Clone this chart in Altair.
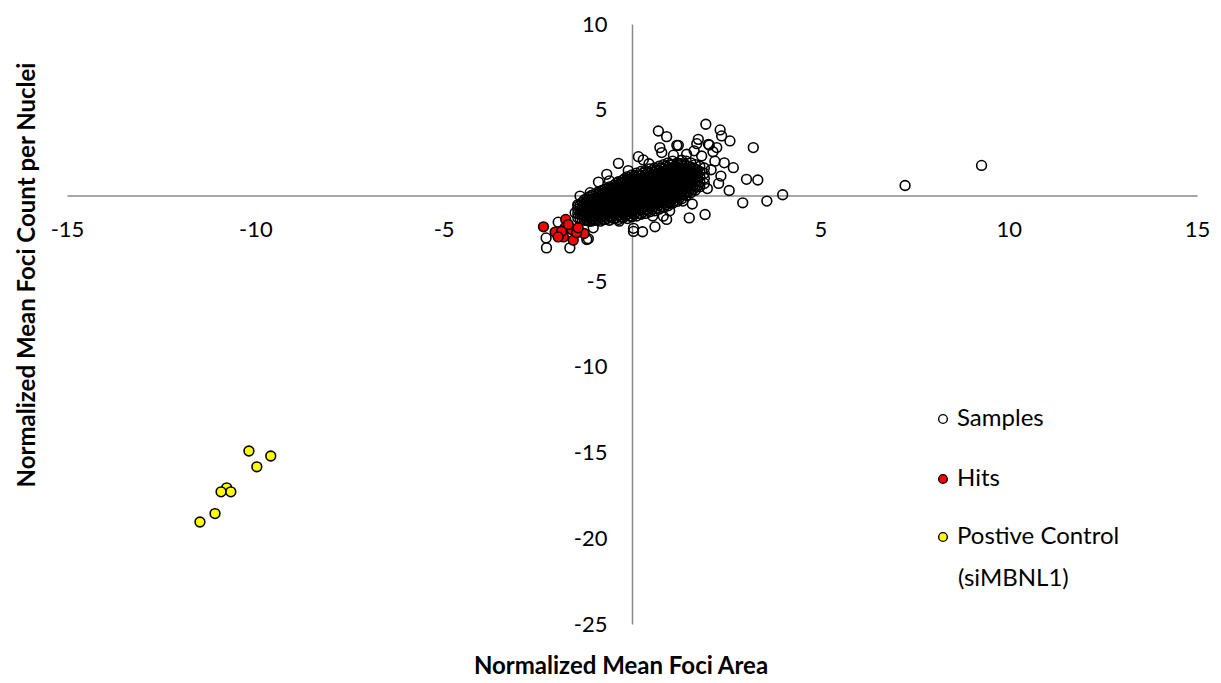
import altair as alt
import pandas as pd

# ---------------- data ----------------
# dense core of the "Samples" cloud, listed column by column: (x, [y values])
core_columns = [
    (-1.44, [-1.3, -1.05, -0.8, -0.55]),
    (-1.32, [-1.4, -1.15, -0.9, -0.65, -0.4]),
    (-1.20, [-1.45, -1.2, -0.95, -0.7, -0.45, -0.2]),
    (-1.08, [-1.5, -1.25, -1.0, -0.75, -0.5, -0.25, 0.0]),
    (-0.96, [-1.45, -1.2, -0.95, -0.7, -0.45, -0.2, 0.05]),
    (-0.84, [-1.5, -1.25, -1.0, -0.75, -0.5, -0.25, 0.0, 0.25]),
    (-0.72, [-1.4, -1.15, -0.9, -0.65, -0.4, -0.15, 0.1, 0.35]),
    (-0.60, [-1.45, -1.2, -0.95, -0.7, -0.45, -0.2, 0.05, 0.3, 0.5]),
    (-0.48, [-1.35, -1.1, -0.85, -0.6, -0.35, -0.1, 0.15, 0.4, 0.6]),
    (-0.36, [-1.4, -1.15, -0.9, -0.65, -0.4, -0.15, 0.1, 0.35, 0.6, 0.8]),
    (-0.24, [-1.3, -1.05, -0.8, -0.55, -0.3, -0.05, 0.2, 0.45, 0.7, 0.9]),
    (-0.12, [-1.35, -1.1, -0.85, -0.6, -0.35, -0.1, 0.15, 0.4, 0.65, 0.9, 1.1]),
    (0.00, [-1.25, -1.0, -0.75, -0.5, -0.25, 0.0, 0.25, 0.5, 0.75, 1.0, 1.2]),
    (0.12, [-1.2, -0.95, -0.7, -0.45, -0.2, 0.05, 0.3, 0.55, 0.8, 1.05, 1.3]),
    (0.24, [-1.1, -0.85, -0.6, -0.35, -0.1, 0.15, 0.4, 0.65, 0.9, 1.15, 1.4]),
    (0.36, [-1.05, -0.8, -0.55, -0.3, -0.05, 0.2, 0.45, 0.7, 0.95, 1.2, 1.45]),
    (0.48, [-0.95, -0.7, -0.45, -0.2, 0.05, 0.3, 0.55, 0.8, 1.05, 1.3, 1.55]),
    (0.60, [-0.9, -0.65, -0.4, -0.15, 0.1, 0.35, 0.6, 0.85, 1.1, 1.35, 1.6]),
    (0.72, [-0.8, -0.55, -0.3, -0.05, 0.2, 0.45, 0.7, 0.95, 1.2, 1.45, 1.7]),
    (0.84, [-0.7, -0.45, -0.2, 0.05, 0.3, 0.55, 0.8, 1.05, 1.3, 1.55, 1.8]),
    (0.96, [-0.6, -0.35, -0.1, 0.15, 0.4, 0.65, 0.9, 1.15, 1.4, 1.65, 1.9]),
    (1.08, [-0.45, -0.2, 0.05, 0.3, 0.55, 0.8, 1.05, 1.3, 1.55, 1.8, 2.0]),
    (1.20, [-0.35, -0.1, 0.15, 0.4, 0.65, 0.9, 1.15, 1.4, 1.65, 1.9]),
    (1.32, [-0.2, 0.05, 0.3, 0.55, 0.8, 1.05, 1.3, 1.55, 1.8, 2.05]),
    (1.44, [0.0, 0.25, 0.5, 0.75, 1.0, 1.25, 1.5, 1.75, 2.0]),
    (1.56, [0.15, 0.4, 0.65, 0.9, 1.15, 1.4, 1.65, 1.9]),
    (1.68, [0.3, 0.55, 0.8, 1.05, 1.3, 1.55, 1.8]),
    (1.80, [0.5, 0.8, 1.1, 1.4, 1.7]),
    (1.92, [0.7, 1.0, 1.3, 1.6]),
    # interleaved columns
    (-1.38, [-1.35, -1.1, -0.85, -0.6]),
    (-1.26, [-1.45, -1.2, -0.95, -0.7, -0.45, -0.25]),
    (-1.14, [-1.5, -1.3, -1.05, -0.8, -0.55, -0.3, -0.1]),
    (-1.02, [-1.45, -1.2, -0.95, -0.7, -0.45, -0.2, 0.05]),
    (-0.90, [-1.4, -1.15, -0.9, -0.65, -0.4, -0.15, 0.1, 0.2]),
    (-0.78, [-1.4, -1.15, -0.9, -0.65, -0.4, -0.15, 0.1, 0.3]),
    (-0.66, [-1.35, -1.1, -0.85, -0.6, -0.35, -0.1, 0.15, 0.4]),
    (-0.54, [-1.3, -1.05, -0.8, -0.55, -0.3, -0.05, 0.2, 0.45]),
    (-0.42, [-1.3, -1.05, -0.8, -0.55, -0.3, -0.05, 0.2, 0.45, 0.7]),
    (-0.30, [-1.25, -1.0, -0.75, -0.5, -0.25, 0.0, 0.25, 0.5, 0.75]),
    (-0.18, [-1.2, -0.95, -0.7, -0.45, -0.2, 0.05, 0.3, 0.55, 0.8, 1.0]),
    (-0.06, [-1.2, -0.95, -0.7, -0.45, -0.2, 0.05, 0.3, 0.55, 0.8, 1.05]),
    (0.06, [-1.1, -0.85, -0.6, -0.35, -0.1, 0.15, 0.4, 0.65, 0.9, 1.15]),
    (0.18, [-1.05, -0.8, -0.55, -0.3, -0.05, 0.2, 0.45, 0.7, 0.95, 1.2]),
    (0.30, [-0.95, -0.7, -0.45, -0.2, 0.05, 0.3, 0.55, 0.8, 1.05, 1.3]),
    (0.42, [-0.9, -0.65, -0.4, -0.15, 0.1, 0.35, 0.6, 0.85, 1.1, 1.35]),
    (0.54, [-0.8, -0.55, -0.3, -0.05, 0.2, 0.45, 0.7, 0.95, 1.2, 1.45]),
    (0.66, [-0.75, -0.5, -0.25, 0.0, 0.25, 0.5, 0.75, 1.0, 1.25, 1.5]),
    (0.78, [-0.65, -0.4, -0.15, 0.1, 0.35, 0.6, 0.85, 1.1, 1.35, 1.6]),
    (0.90, [-0.55, -0.3, -0.05, 0.2, 0.45, 0.7, 0.95, 1.2, 1.45, 1.7]),
    (1.02, [-0.45, -0.2, 0.05, 0.3, 0.55, 0.8, 1.05, 1.3, 1.55, 1.8]),
    (1.14, [-0.3, -0.05, 0.2, 0.45, 0.7, 0.95, 1.2, 1.45, 1.7]),
    (1.26, [-0.15, 0.1, 0.35, 0.6, 0.85, 1.1, 1.35, 1.6, 1.85]),
    (1.38, [0.05, 0.3, 0.55, 0.8, 1.05, 1.3, 1.55, 1.8]),
    (1.50, [0.2, 0.45, 0.7, 0.95, 1.2, 1.45, 1.7]),
    (1.62, [0.35, 0.6, 0.85, 1.1, 1.35, 1.6]),
    (1.74, [0.55, 0.85, 1.15, 1.45]),
]

# scattered "Samples" around the core
sample_x = [-0.36, 0.17, 0.30, 0.79, 0.74, 1.19, 0.70, 0.92, 1.76, 1.96, 2.34, 2.38,
            2.60, 2.05, 2.25, 1.72, 2.03, 3.22, 2.69, 2.36, 3.04, 3.34, 2.58, 2.94,
            3.58, 4.00, 1.94, 1.52, 0.61, 0.28, 0.04, 0.04, 0.92, 0.83, -0.34, -1.20,
            -1.65, -2.27, -2.28, -0.89, -0.67, -1.11, -1.38, -1.43, -1.96, -1.03, -1.16,
            1.35, 7.25, 9.28, 2.20, 2.10, 2.00, 2.30, 1.60, 1.00, -1.51, 1.23,
            1.45, 1.85, 2.15, 0.45, 1.10, 1.65, 2.45, -0.60, -0.10, 0.55]
sample_y = [1.87, 2.26, 2.07, 2.50, 2.79, 2.92, 3.76, 3.43, 3.27, 4.15, 3.82, 3.47,
            3.18, 2.94, 2.79, 3.02, 2.98, 2.79, 1.62, 1.13, 0.94, 0.90, 0.29, -0.43,
            -0.33, 0.04, -1.11, -1.31, -1.83, -2.12, -1.92, -2.10, -1.40, -1.21, -1.50, -2.57,
            -3.06, -3.06, -2.48, 0.78, 1.23, 0.16, -0.04, -0.62, -1.56, -1.89, -2.53,
            -0.33, 0.58, 1.75, 2.00, 1.50, 0.40, 0.70, -0.50, -0.90, -1.01, 2.92,
            2.40, 2.30, 2.55, 1.85, 2.35, 2.60, 1.90, 0.85, 1.45, -1.20]

# "Hits"
hit_x = [-2.35, -2.04, -1.82, -1.76, -1.78, -1.60, -1.56, -1.27, -1.47, -1.87, -1.69, -1.96, -1.43]
hit_y = [-1.83, -2.14, -2.42, -1.40, -1.89, -1.99, -2.61, -2.22, -2.18, -2.09, -1.70, -2.42, -1.89]

# "Postive Control (siMBNL1)"
ctrl_x = [-10.17, -9.59, -9.96, -10.76, -10.91, -10.65, -11.07, -11.47]
ctrl_y = [-14.91, -15.20, -15.83, -17.06, -17.29, -17.29, -18.56, -19.05]

x_ticks = [-15, -10, -5, 5, 10, 15]
y_ticks = [-25, -20, -15, -10, -5, 5, 10]
legend_labels = ["Samples", "Hits", "Postive Control"]
legend_fills = ["transparent", "#FF0000", "#FFFF00"]
legend_extra = "(siMBNL1)"
x_title = "Normalized Mean Foci Area"
y_title = "Normalized Mean Foci Count per Nuclei"

# ---------------- build tables ----------------
sx, sy = [], []
for cx, yv in core_columns:
    for v in yv:
        sx.append(cx)
        sy.append(v)
sx += sample_x
sy += sample_y
samples = pd.DataFrame({"x": sx, "y": sy})
hits = pd.DataFrame({"x": hit_x, "y": hit_y})
ctrl = pd.DataFrame({"x": ctrl_x, "y": ctrl_y})

W, H = 1130, 600
X_DOM, Y_DOM = [-15, 15], [-25, 10]
FONT = "Lato"
AXIS_GREY = "#898989"

xs = alt.Scale(domain=X_DOM, nice=False, zero=False)
ys_ = alt.Scale(domain=Y_DOM, nice=False, zero=False)

x_zero_px = H * (Y_DOM[1] - 0) / (Y_DOM[1] - Y_DOM[0])   # y pixel of y=0
y_zero_px = W * (0 - X_DOM[0]) / (X_DOM[1] - X_DOM[0])   # x pixel of x=0

x_axis = alt.Axis(values=x_ticks, offset=x_zero_px - H, domain=True, domainColor=AXIS_GREY,
                  domainWidth=1.5, ticks=False, tickSize=0, grid=False, labelFont=FONT,
                  labelFontSize=22, labelColor="black", labelPadding=24, labelFlush=False,
                  labelOverlap=False, labelExpr="datum.value + ''", title=None)
y_axis = alt.Axis(values=y_ticks, offset=-y_zero_px, domain=True, domainColor=AXIS_GREY,
                  domainWidth=1.5, ticks=False, tickSize=0, grid=False, labelFont=FONT,
                  labelFontSize=22, labelColor="black", labelPadding=25, labelFlush=False,
                  labelOverlap=False, labelExpr="datum.value + ''", title=None)


def pts(df, fill):
    return alt.Chart(df).mark_point(shape="circle", filled=True, fill=fill, stroke="black",
                                    strokeWidth=1.6, size=95, opacity=1).encode(
        x=alt.X("x:Q", scale=xs, axis=x_axis),
        y=alt.Y("y:Q", scale=ys_, axis=y_axis))


layers = [pts(samples, "transparent"), pts(hits, "#FF0000"), pts(ctrl, "#FFFF00")]

# legend (manual, Excel style)
ox, oy = 67, 24
leg_y = [419, 479, 537]
for lab, fill, ly in zip(legend_labels, legend_fills, leg_y):
    layers.append(alt.Chart(pd.DataFrame({"l": [lab]})).mark_point(
        shape="circle", filled=True, fill=fill, stroke="black", strokeWidth=1.4, size=75, opacity=1
    ).encode(x=alt.value(943 - ox), y=alt.value(ly - oy)))
    layers.append(alt.Chart(pd.DataFrame({"l": [lab]})).mark_text(
        align="left", baseline="middle", font=FONT, fontSize=24, color="black"
    ).encode(x=alt.value(957 - ox), y=alt.value(ly - oy), text="l:N"))
layers.append(alt.Chart(pd.DataFrame({"l": [legend_extra]})).mark_text(
    align="left", baseline="middle", font=FONT, fontSize=24, color="black"
).encode(x=alt.value(958 - ox), y=alt.value(579 - oy), text="l:N"))

# axis titles
layers.append(alt.Chart(pd.DataFrame({"t": [x_title]})).mark_text(
    align="center", baseline="middle", font=FONT, fontSize=24, fontWeight="bold", color="black"
).encode(x=alt.value(621 - ox), y=alt.value(667 - oy), text="t:N"))
layers.append(alt.Chart(pd.DataFrame({"t": [y_title]})).mark_text(
    align="center", baseline="middle", font=FONT, fontSize=24, fontWeight="bold", color="black",
    angle=270
).encode(x=alt.value(28 - ox), y=alt.value(275 - oy), text="t:N"))

chart = alt.layer(*layers).properties(
    width=W, height=H,
    padding={"left": 67, "top": 24, "right": 24, "bottom": 59},
    autosize=alt.AutoSizeParams(type="none"),
    background="white",
).configure_view(stroke=None)

chart.save("out.html", embed_options={"renderer": "svg", "actions": False})
